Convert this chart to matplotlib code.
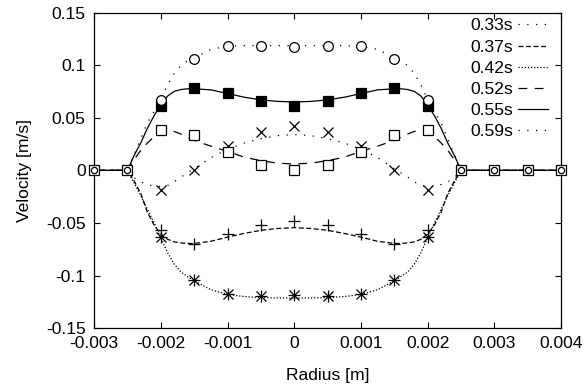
import matplotlib
matplotlib.use("Agg")
import matplotlib.pyplot as plt

plt.rcParams['font.family'] = ['Liberation Sans', 'DejaVu Sans']

# ---- data ----
labels = ["0.33s", "0.37s", "0.42s", "0.52s", "0.55s", "0.59s"]

# measured points (inner region)
x_pts = [-0.002, -0.0015, -0.001, -0.0005, 0.0, 0.0005, 0.001, 0.0015, 0.002]
pts_033 = [-0.0184, 0.0, 0.0228, 0.0364, 0.0418, 0.0364, 0.023, 0.0, -0.0184]
pts_037 = [-0.0565, -0.0696, -0.061, -0.0516, -0.0478, -0.0516, -0.061, -0.0696, -0.057]
pts_042 = [-0.0633, -0.1038, -0.1177, -0.1193, -0.1187, -0.1193, -0.1177, -0.1038, -0.0633]
pts_052 = [0.038, 0.0339, 0.0171, 0.0047, 0.0006, 0.0047, 0.017, 0.034, 0.0386]
pts_055 = [0.0608, 0.078, 0.0737, 0.0655, 0.0608, 0.0655, 0.0737, 0.078, 0.0608]
pts_059 = [0.0665, 0.106, 0.118, 0.118, 0.1175, 0.118, 0.118, 0.106, 0.0665]

# wall points (zero velocity)
x_wall = [-0.003, -0.0025, 0.0025, 0.003, 0.0035, 0.004]
v_wall = [0.0, 0.0, 0.0, 0.0, 0.0, 0.0]

# curve samples
x_cur = [-0.003, -0.0025, -0.0024, -0.0023, -0.0022, -0.0021, -0.002, -0.0019,
         -0.0018, -0.0017, -0.0016, -0.0015, -0.00125, -0.001, -0.00075, -0.0005,
         -0.00025, 0.0, 0.00025, 0.0005, 0.00075, 0.001, 0.00125, 0.0015, 0.0016,
         0.0017, 0.0018, 0.0019, 0.002, 0.0021, 0.0022, 0.0023, 0.0024, 0.0025, 0.004]
cur_033 = [0, 0, -0.007, -0.011, -0.0135, -0.015, -0.0155, -0.0145, -0.011, -0.0065,
           -0.0025, 0.0015, 0.012, 0.02, 0.026, 0.030, 0.033, 0.034, 0.033, 0.030,
           0.026, 0.02, 0.012, 0.0015, -0.0025, -0.0065, -0.011, -0.0145, -0.0155,
           -0.015, -0.0135, -0.011, -0.007, 0, 0]
cur_037 = [0, 0, -0.010, -0.022, -0.040, -0.052, -0.0605, -0.0655, -0.068, -0.069,
           -0.0695, -0.0695, -0.0675, -0.0635, -0.060, -0.057, -0.0553, -0.0545,
           -0.0553, -0.057, -0.060, -0.0635, -0.0675, -0.0695, -0.0695, -0.069,
           -0.068, -0.0655, -0.0605, -0.052, -0.040, -0.022, -0.010, 0, 0]
cur_042 = [0, 0, -0.012, -0.024, -0.037, -0.050, -0.064, -0.078, -0.089, -0.0965,
           -0.101, -0.105, -0.1135, -0.118, -0.120, -0.121, -0.1213, -0.1215,
           -0.1213, -0.121, -0.120, -0.118, -0.1135, -0.105, -0.101, -0.0965,
           -0.089, -0.078, -0.064, -0.050, -0.037, -0.024, -0.012, 0, 0]
cur_052 = [0, 0, 0.010, 0.019, 0.026, 0.032, 0.036, 0.0375, 0.037, 0.0345, 0.0315,
           0.0285, 0.023, 0.018, 0.0125, 0.0092, 0.0068, 0.006, 0.0068, 0.0092,
           0.0125, 0.018, 0.023, 0.0285, 0.0315, 0.0345, 0.037, 0.0375, 0.036,
           0.032, 0.026, 0.019, 0.010, 0, 0]
cur_055 = [0, 0, 0.014, 0.026, 0.040, 0.052, 0.062, 0.0705, 0.075, 0.0768, 0.0775,
           0.0775, 0.0765, 0.073, 0.0695, 0.067, 0.0655, 0.065, 0.0655, 0.067,
           0.0695, 0.073, 0.0765, 0.0775, 0.0775, 0.0768, 0.075, 0.0705, 0.062,
           0.052, 0.040, 0.026, 0.014, 0, 0]
cur_059 = [0, 0, 0.015, 0.030, 0.045, 0.056, 0.067, 0.081, 0.092, 0.0995, 0.104,
           0.107, 0.115, 0.118, 0.1185, 0.1185, 0.1185, 0.1185, 0.1185, 0.1185,
           0.1185, 0.118, 0.115, 0.107, 0.104, 0.0995, 0.092, 0.081, 0.067, 0.056,
           0.045, 0.030, 0.015, 0, 0]

x_ticks = [-0.003, -0.002, -0.001, 0.0, 0.001, 0.002, 0.003, 0.004]
x_ticklabels = ["-0.003", "-0.002", "-0.001", "0", "0.001", "0.002", "0.003", "0.004"]
y_ticks = [-0.15, -0.1, -0.05, 0.0, 0.05, 0.1, 0.15]
y_ticklabels = ["-0.15", "-0.1", "-0.05", "0", "0.05", "0.1", "0.15"]

# ---- figure ----
fs = 12.6
fig = plt.figure(figsize=(5.84, 3.92), dpi=100)
ax = fig.add_axes([0.161, 0.163, 0.961 - 0.161, 0.968 - 0.163])

lw = 0.9
styles = {
    "0.33s": (0, (1, 6)),
    "0.37s": (0, (4, 2)),
    "0.42s": (0, (1, 1.5)),
    "0.52s": (0, (7, 6)),
    "0.55s": "solid",
    "0.59s": (0, (1, 6)),
}
curves = [cur_033, cur_037, cur_042, cur_052, cur_055, cur_059]
for lab, cur in zip(labels, curves):
    ax.plot(x_cur, cur, color='black', lw=lw, linestyle=styles[lab], label=lab,
            dash_capstyle='butt')

mew = 0.9
ms = 7
ax.plot(x_pts, pts_033, linestyle='none', marker='x', ms=ms, mec='black', mew=mew)
ax.plot(x_pts, pts_037, linestyle='none', marker='+', ms=ms + 1.5, mec='black', mew=mew)
ax.plot(x_pts, pts_042, linestyle='none', marker='+', ms=ms + 1, mec='black', mew=mew)
ax.plot(x_pts, pts_042, linestyle='none', marker='x', ms=ms - 0.5, mec='black', mew=mew)
ax.plot(x_pts, pts_052, linestyle='none', marker='s', ms=ms - 0.5, mfc='white', mec='black', mew=mew)
ax.plot(x_pts, pts_055, linestyle='none', marker='s', ms=ms - 0.5, mfc='black', mec='black', mew=mew)
ax.plot(x_pts, pts_059, linestyle='none', marker='o', ms=ms, mfc='white', mec='black', mew=mew)

ax.plot(x_wall, v_wall, linestyle='none', marker='s', ms=ms - 0.5, mfc='white', mec='black', mew=mew, clip_on=False, zorder=5)
ax.plot(x_wall, v_wall, linestyle='none', marker='o', ms=ms - 2.5, mfc='white', mec='black', mew=mew, clip_on=False, zorder=6)

ax.set_xlim(-0.003, 0.004)
ax.set_ylim(-0.15, 0.15)
ax.set_xticks(x_ticks)
ax.set_xticklabels(x_ticklabels)
ax.set_yticks(y_ticks)
ax.set_yticklabels(y_ticklabels)
ax.tick_params(axis='both', direction='in', length=4.5, width=0.8, top=True, right=True,
               labelsize=fs, colors='black')
ax.tick_params(axis='x', pad=6)
ax.tick_params(axis='y', pad=6)
for s in ax.spines.values():
    s.set_linewidth(0.9)

ax.set_xlabel("Radius [m]", fontsize=fs, labelpad=12)
ax.set_ylabel("Velocity [m/s]", fontsize=fs, labelpad=10)

leg = ax.legend(loc='upper right', bbox_to_anchor=(0.972, 0.982), frameon=False,
                fontsize=fs, markerfirst=False,
                handlelength=1.7, handletextpad=0.3, labelspacing=0.34,
                borderaxespad=0.0, borderpad=0.0)

fig.savefig("out.png", dpi=100)
